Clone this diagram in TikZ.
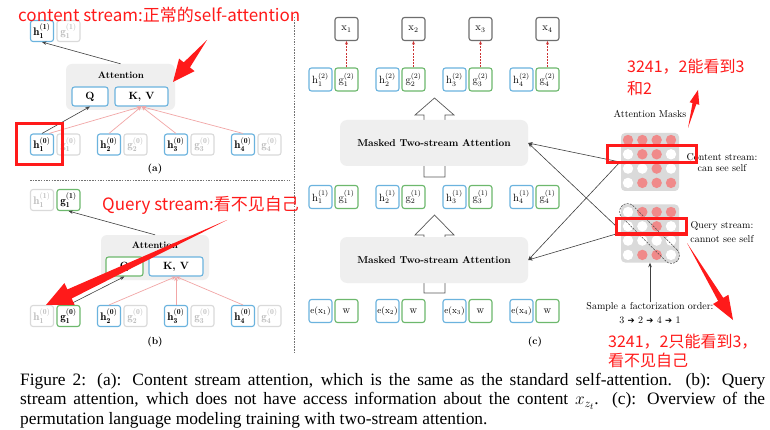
\documentclass[tikz,border=0pt]{standalone}
\usepackage{fontspec}
\usetikzlibrary{arrows.meta,calc}
\newfontfamily\cjk{Noto Sans CJK SC}
\newfontfamily\capfont{Liberation Serif}
\newfontfamily\symfont{DejaVu Sans}
\definecolor{cblue}{HTML}{6BB3DE}
\definecolor{cgreen}{HTML}{6DB86D}
\definecolor{cfade}{HTML}{DADADA}
\definecolor{cfadet}{HTML}{BDBDBD}
\definecolor{cxb}{HTML}{6E6E6E}
\definecolor{cpanel}{HTML}{EFEFEF}
\definecolor{cmask}{HTML}{DADADA}
\definecolor{cdot}{HTML}{F08A8A}
\definecolor{cpink}{HTML}{F2A6A6}
\definecolor{cred}{HTML}{FF1A1A}
\definecolor{cdash}{HTML}{CC3333}
\newcommand\redarrow[5]{%
  \coordinate (ra-c) at ($(#2)!#3!(#1)$);
  \fill[cred] (#1) -- ($(ra-c)!#5!90:(#1)$) -- ($(ra-c)!#4!90:(#1)$) -- (#2)
     -- ($(ra-c)!#4!-90:(#1)$) -- ($(ra-c)!#5!-90:(#1)$) -- cycle;}
\newcommand\maskrow[2]{% y, list
  \foreach \v [count=\c] in {#2} {
    \ifnum\v=1 \fill[cdot] ({628+(\c-1)*14.33},#1) circle (5.2pt);
    \else \fill[white] ({628+(\c-1)*14.33},#1) circle (5.2pt); \fi}}
\newcommand\bh[3]{$\mathbf{#1}_{\mathbf{#2}}^{\mathbf{(#3)}}$}
\tikzset{
  bx/.style={draw, rounded corners=2.5pt, line width=1.1pt, minimum width=23pt,
    minimum height=21pt, inner sep=0pt, fill=white, font=\fontsize{10.5}{12}\selectfont},
  abx/.style={font=\fontsize{11}{12}\selectfont},
  hb/.style={bx, draw=cblue},
  gb/.style={bx, draw=cgreen},
  fb/.style={bx, draw=cfade, text=cfadet},
  xb/.style={bx, draw=cxb},
  cbx/.style={minimum height=23pt},
  attpanel/.style={fill=cpanel, rounded corners=6pt, inner sep=0pt},
  mbox/.style={fill=cpanel, rounded corners=7pt, minimum width=188pt, minimum height=46pt,
    inner sep=0pt, font=\bfseries\fontsize{10}{12}\selectfont},
  blk/.style={draw=black!75, line width=0.6pt, -{Stealth[length=4.5pt,width=3.5pt]}},
  pnk/.style={draw=cpink, line width=0.7pt, -{Stealth[length=4.5pt,width=3.5pt]}},
  rdash/.style={draw=cdash, line width=1.1pt, dash pattern=on 2pt off 1.2pt, -{Stealth[length=3.5pt,width=3pt]}},
  hollow/.style={draw=black!65, fill=white, line width=0.7pt},
  sepline/.style={draw=black!55, line width=0.7pt, dash pattern=on 1.5pt off 1.2pt},
  annot/.style={text=cred, font=\cjk\fontsize{17}{20}\selectfont, inner sep=0pt},
  annots/.style={text=cred, font=\cjk\fontsize{16}{20}\selectfont, inner sep=0pt},
  redbox/.style={draw=cred, line width=3pt},
  lbl/.style={font=\fontsize{10}{11}\selectfont, inner sep=0pt, align=center},
  plabel/.style={font=\bfseries\fontsize{10}{12}\selectfont, inner sep=0pt},
}
\begin{document}
\begin{tikzpicture}[x=1pt,y=-1pt]
\path[use as bounding box, fill=white] (0,0) rectangle (770,430);

% ---------- separators
\draw[sepline] (294,17) -- (294,352);
\draw[sepline] (30,180) -- (290,180);

% ================= panel (a)
\node[hb, abx] (ah1t) at (42,31) {\bh{h}{1}{1}};
\node[fb, abx] (ag1t) at (68.5,31) {\bh{g}{1}{1}};
\node[attpanel, minimum width=109pt, minimum height=46pt] (aatt) at (120.5,87) {};
\node[font=\bfseries\fontsize{9.5}{11}\selectfont] at (121,75) {Attention};
\node[hb, minimum width=36pt, minimum height=19pt] (aq) at (90,96.5) {\bfseries Q};
\node[hb, minimum width=53pt, minimum height=19pt] (akv) at (141.5,96.5) {\bfseries K, V};
\foreach \i/\x in {1/42,2/109,3/176,4/243} {
  \node[hb, abx] (ah\i) at (\x,144.5) {\bh{h}{\i}{0}};
  \node[fb, abx] (ag\i) at (\x+26.5,144.5) {\bh{g}{\i}{0}};
}
\draw[blk] (aatt.north) -- (ah1t.south);
\draw[blk] (ah1.north) -- (aq.south);
\draw[pnk] ([xshift=7pt]ah1.north) -- (akv.south);
\foreach \i in {2,3,4} \draw[pnk] (ah\i.north) -- (akv.south);
\node[plabel] at (155,169) {(a)};

% ================= panel (b)
\node[fb, abx] (bh1t) at (42,200) {\bh{h}{1}{1}};
\node[gb, abx] (bg1t) at (68.5,200) {\bh{g}{1}{1}};
\node[attpanel, minimum width=108pt, minimum height=45pt] (batt) at (155,257.5) {};
\node[font=\bfseries\fontsize{9.5}{11}\selectfont] at (155,245) {Attention};
\node[gb, minimum width=37pt, minimum height=19pt] (bq) at (124.5,266.5) {\bfseries Q};
\node[hb, minimum width=54pt, minimum height=19pt] (bkv) at (176,266.5) {\bfseries K, V};
\node[fb, abx] (bh1) at (42,316) {\bh{h}{1}{0}};
\node[gb, abx] (bg1) at (68.5,316) {\bh{g}{1}{0}};
\foreach \i/\x in {2/109,3/176,4/243} {
  \node[hb, abx] (bh\i) at (\x,316) {\bh{h}{\i}{0}};
  \node[fb, abx] (bg\i) at (\x+26.5,316) {\bh{g}{\i}{0}};
}
\draw[blk] (batt.north) -- (bg1t.south);
\draw[blk] (bg1.north) -- (bq.south);
\foreach \i in {2,3,4} \draw[pnk] (bh\i.north) -- (bkv.south);
\node[plabel] at (155,342) {(b)};

% ================= panel (c)
\draw[hollow] (424,177) -- (424,115) -- (415,115) -- (434.5,98) -- (454,115) -- (445,115) -- (445,177) -- cycle;
\draw[hollow] (424,293) -- (424,235) -- (415,235) -- (434.5,215) -- (454,235) -- (445,235) -- (445,293) -- cycle;
\node[mbox] (mtop) at (434,143) {Masked Two-stream Attention};
\node[mbox] (mbot) at (434,260) {Masked Two-stream Attention};
\foreach \i/\x in {1/320.5,2/387.5,3/454.5,4/521.5} {
  \node[xb, cbx] (x\i) at (\x+26,29) {$\mathrm{x}_{\i}$};
  \node[hb, cbx] (ch\i) at (\x,79.5) {$\mathrm{h}_{\i}^{(2)}$};
  \node[gb, cbx] (cg\i) at (\x+26,79.5) {$\mathrm{g}_{\i}^{(2)}$};
  \node[hb, cbx] (dh\i) at (\x,197) {$\mathrm{h}_{\i}^{(1)}$};
  \node[gb, cbx] (dg\i) at (\x+26,197) {$\mathrm{g}_{\i}^{(1)}$};
  \node[hb, cbx, font=\fontsize{9}{10}\selectfont] (e\i) at (\x,311) {$\mathrm{e}(\mathrm{x}_{\i})$};
  \node[gb, cbx] (w\i) at (\x+26,311) {$\mathrm{w}$};
  \draw[rdash] (cg\i.north) -- (x\i.south);
}
\node[plabel] at (535,342) {(c)};

% ================= masks
\node[lbl] at (650,114) {Attention Masks};
\node[fill=cmask, rounded corners=4pt, minimum size=58pt, inner sep=0pt] (cgrid) at (650,162) {};
\maskrow{140}{1,1,1,1}
\maskrow{154.3}{0,1,1,0}
\maskrow{168.6}{0,0,1,0}
\maskrow{182.9}{0,1,1,1}
\node[lbl] at (722,157) {Content stream:};
\node[lbl] at (722,168) {can see self};

\node[fill=cmask, rounded corners=4pt, minimum size=58pt, inner sep=0pt] (qgrid) at (650,233.5) {};
\maskrow{212}{0,1,1,1}
\maskrow{226.3}{0,0,1,0}
\maskrow{240.6}{0,0,0,0}
\maskrow{254.9}{0,1,1,0}
\node[draw=black!70, dash pattern=on 2pt off 1.2pt, line width=0.6pt, rounded corners=8pt,
  minimum width=78pt, minimum height=16pt, rotate=-45] at (649.5,233.5) {};
\node[lbl] at (722,226) {Query stream:};
\node[lbl] at (722,239) {cannot see self};

\node[lbl] (samp) at (650,307) {Sample a factorization order:};
\node[lbl] at (650,320) {3 {\symfont\fontsize{8.5}{10}\selectfont ➔} 2 {\symfont\fontsize{8.5}{10}\selectfont ➔} 4 {\symfont\fontsize{8.5}{10}\selectfont ➔} 1};
\draw[blk] (samp.north) -- (qgrid.south);

\coordinate (cma) at (620,162);
\coordinate (qma1) at (617,227);
\coordinate (qma2) at (616,234);
\draw[blk] (cma) -- (mtop.east);
\draw[blk] (qma1) -- (mtop.east);
\draw[blk] (cma) -- (mbot.east);
\draw[blk] (qma2) -- (mbot.east);

% ================= red annotations
\draw[redbox] (16,124) rectangle (62,165);
\draw[redbox] (607,146) rectangle (696,163);
\draw[redbox] (616,219) rectangle (686,234);

\node[annot, anchor=west] at (18,15) {content stream:正常的self-attention};
\node[annot, anchor=west] at (102,205) {Query stream:看不见自己};
\node[annots, anchor=west] at (627,67) {3241，2能看到3};
\node[annots, anchor=west] at (627,88) {和2};
\node[annots, anchor=west] at (608,342) {3241，2只能看到3，};
\node[annots, anchor=west] at (608,360) {看不见自己};

\coordinate (ta1) at (207,40);  \coordinate (tb1) at (173,82);
\redarrow{ta1}{tb1}{22pt}{10pt}{4pt}
\coordinate (ta2) at (227,220); \coordinate (tb2) at (46,305);
\redarrow{ta2}{tb2}{26pt}{12pt}{5pt}
\coordinate (ta3) at (688,128); \coordinate (tb3) at (698,90);
\redarrow{ta3}{tb3}{14pt}{5pt}{2pt}
\coordinate (ta4) at (687,243); \coordinate (tb4) at (733,320);
\redarrow{ta4}{tb4}{24pt}{9pt}{3pt}

% ================= caption
\node[anchor=north west, inner sep=0pt, text width=745pt, align=justify,
  font=\capfont\fontsize{17.4}{19.5}\selectfont] (cap) at (20,373)
{Figure 2: (a): Content stream attention, which is the same as the standard self-attention. (b): Query\linebreak
stream attention, which does not have access information about the content $x_{z_t}$. (c): Overview of the\linebreak
permutation language modeling training with two-stream attention.};
\end{tikzpicture}
\end{document}
